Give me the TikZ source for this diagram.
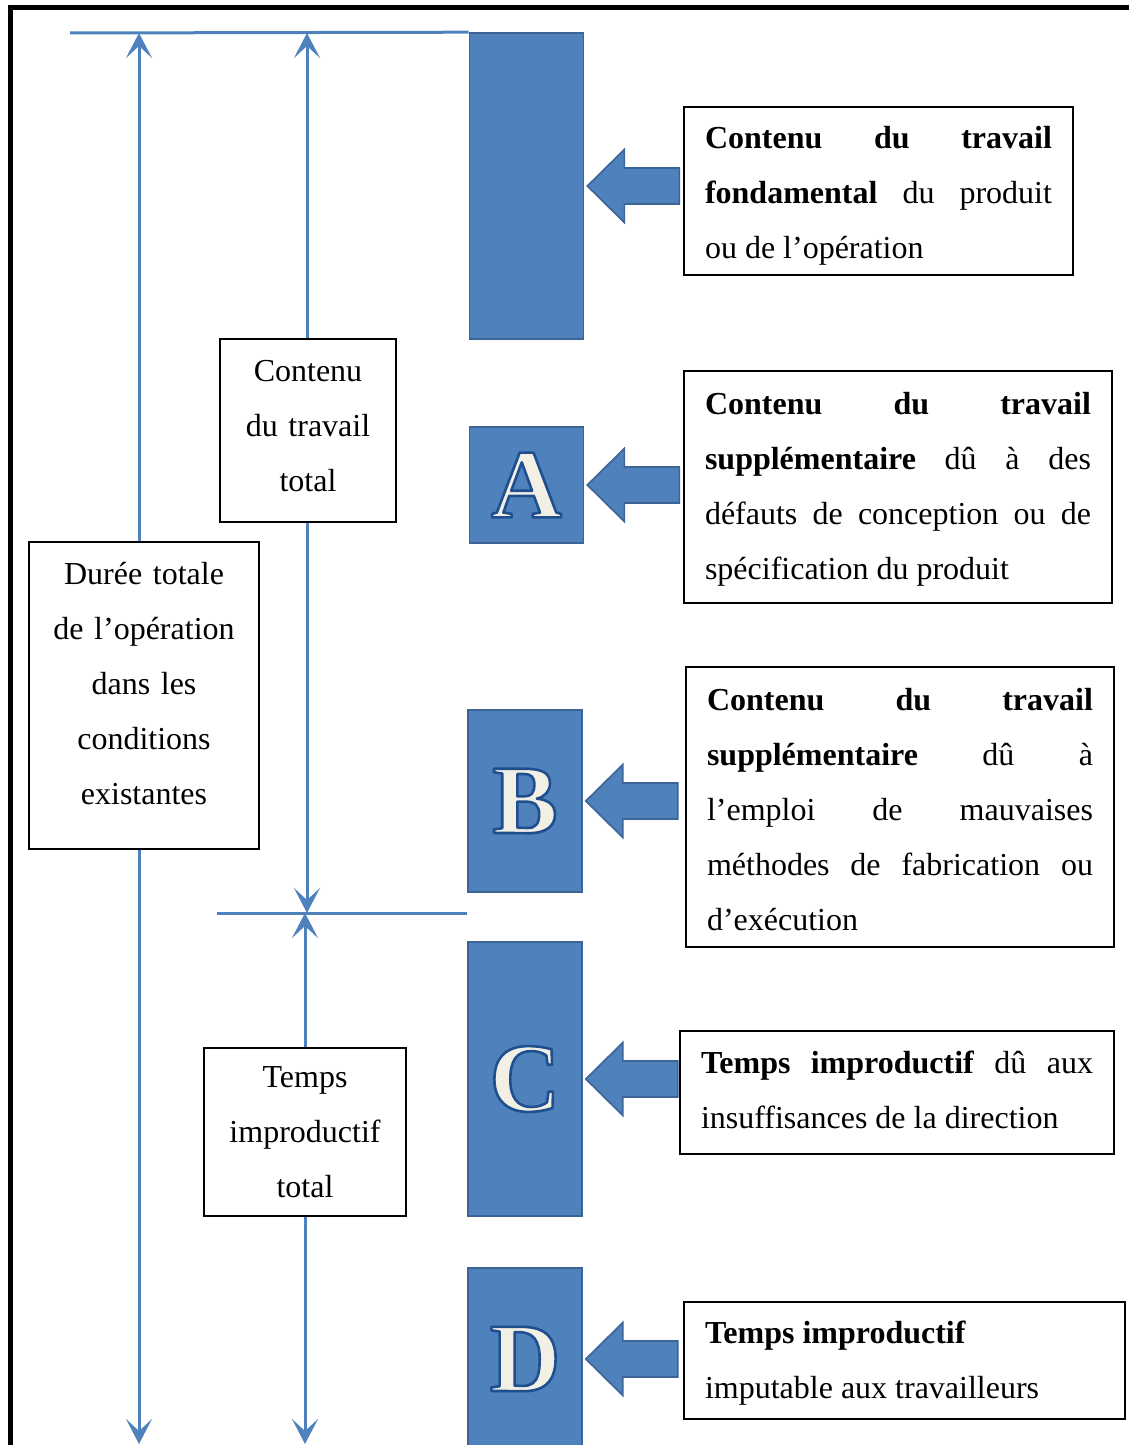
\documentclass[tikz,border=0pt]{standalone}
\usepackage{fontspec}
\setmainfont{Liberation Serif}
\usetikzlibrary{arrows.meta, positioning}

\definecolor{barblue}{HTML}{4F81BD}
\definecolor{baredge}{HTML}{3C6496}
\definecolor{lettercream}{HTML}{F2F0E4}

% cream letter with a dark blue outline (fill + stroke)
\newcommand{\capletter}[1]{\textcolor{lettercream}{%
  \special{pdf:code 0.12 0.31 0.56 RG 1.3 w 1 j 2 Tr}#1\special{pdf:code 0 Tr}}}

\begin{document}
\begin{tikzpicture}[x=0.5pt, y=-0.5pt, >={Stealth[length=12.5pt, width=13pt, inset=6pt]},
	dim/.style={draw=barblue, line width=1.5pt},
	bar/.style={draw=baredge, fill=barblue, line width=0.8pt, inner sep=0pt, minimum width=57pt,
		font=\fontsize{49}{49}\selectfont\bfseries},
	note/.style={draw, line width=1pt, fill=white, align=justify, inner xsep=10.5pt, inner ysep=0pt,
		font=\fontsize{16}{27.5}\selectfont},
	total/.style={draw, line width=1pt, fill=white, align=center, inner sep=0pt,
		font=\fontsize{16}{27.5}\selectfont},
	blockarrow/.style={draw=baredge, fill=barblue, line width=0.8pt}]
	\useasboundingbox (0,0) rectangle (1129,1445);

	% free ends of the dimension lines
	\coordinate (topleft) at (70,33);
	\coordinate (durtop) at (139,33);
	\coordinate (durbot) at (139,1444);
	\coordinate (cttop) at (307,33);
	\coordinate (ctbot) at (307,913);
	\coordinate (titop) at (305,913);
	\coordinate (tibot) at (305,1444);
	\coordinate (midleft) at (217,913);

	% the bars
	\node[bar, minimum height=153pt] (fond) at (526.5,186) {};
	\node[bar, minimum height=58pt] (A) at (526.5,485) {\capletter{A}};
	\node[bar, minimum height=91pt] (B) at (525,801) {\capletter{B}};
	\node[bar, minimum height=137pt] (C) at (525,1079) {\capletter{C}};
	\node[bar, minimum height=91pt] (D) at (525,1359) {\capletter{D}};

	\draw[dim] (topleft) -- (fond.north west);
	\draw[dim] (midleft) -- (midleft -| C.west);
	\draw[dim, <->] (durtop) -- (durbot);
	\draw[dim, <->] (cttop) -- (ctbot);
	\draw[dim, <->] (titop) -- (tibot);

	% totals on the left
	\node[total, text width=75pt, minimum width=88pt, minimum height=91.5pt, text depth=60pt] (ctotal) at (308,430.5)
		{Contenu\\du travail\\total};
	\node[total, text width=105pt, minimum width=115pt, minimum height=153.5pt, text depth=122pt] (duree) at (144,695.5)
		{Durée totale\\de l’opération\\dans les\\conditions\\existantes};
	\node[total, text width=90pt, minimum width=101pt, minimum height=84pt] (ttotal) at (305,1132)
		{Temps\\improductif\\total};

	% notes on the right
	\node[note, text width=173.5pt, minimum height=84pt, text depth=53.5pt] (tfond) at (878.5,191)
		{\textbf{Contenu du travail}\linebreak \textbf{fondamental} du produit\linebreak ou de l’opération};
	\node[note, text width=193pt, minimum height=116pt, text depth=84pt] (tA) at (898,487)
		{\textbf{Contenu du travail}\linebreak \textbf{supplémentaire} dû à des\linebreak défauts de conception ou de\linebreak spécification du produit};
	\node[note, text width=193pt, minimum height=140pt, text depth=108pt] (tB) at (900,807)
		{\textbf{Contenu du travail}\linebreak \textbf{supplémentaire} dû à\linebreak l’emploi de mauvaises\linebreak méthodes de fabrication ou\linebreak d’exécution};
	\node[note, text width=196pt, minimum height=61.5pt, text depth=30.5pt] (tC) at (897,1092.5)
		{\textbf{Temps improductif} dû aux\linebreak insuffisances de la direction};
	\node[note, text width=199.5pt, minimum height=58.5pt, text depth=28pt] (tD) at (904.5,1360.5)
		{\textbf{Temps improductif}\\imputable aux travailleurs};

	% block arrows
	\foreach \b in {fond, A, B, C, D}
		\draw[blockarrow] ([xshift=1.5pt]\b.east) -- ++(37,-36.5) -- ++(0,18.5) -- ++(55,0)
			-- ++(0,36) -- ++(-55,0) -- ++(0,18.5) -- cycle;

	% frame
	\draw[line width=2.5pt] (1140,8) -- (10,8) -- (10,1460);
\end{tikzpicture}
\end{document}
